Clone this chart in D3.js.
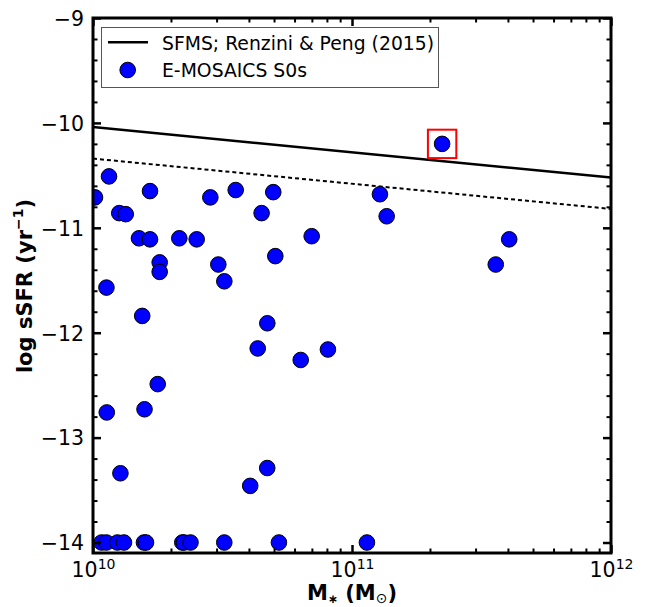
<!DOCTYPE html>
<html>
<head>
<meta charset="utf-8">
<script src="https://cdn.jsdelivr.net/npm/d3@7"></script>
<style>
  html, body { margin: 0; padding: 0; background: #fff; }
  svg { display: block; font-family: "DejaVu Sans", sans-serif; }
</style>
</head>
<body>
<svg id="chart" width="650" height="607"></svg>
<script>
// Stellar mass (Msun) and log specific star formation rate (yr^-1) of the S0 sample
const s0Mass = [
  1.153e10, 1.018e10, 1.660e10, 2.838e10, 3.556e10, 4.477e10, 1.263e10, 1.338e10,
  1.505e10, 1.660e10, 2.154e10, 2.514e10, 1.809e10, 1.809e10, 3.047e10, 3.214e10,
  1.127e10, 1.549e10, 4.966e10, 6.988e10, 5.057e10, 1.282e11, 1.361e11, 2.228e11,
  4.046e11, 3.589e11, 4.710e10, 4.325e10, 6.339e10, 8.072e10, 1.778e10, 1.581e10,
  1.130e10, 1.276e10, 4.046e10, 4.706e10,
  1.079e10, 1.127e10, 1.243e10, 1.317e10, 1.573e10, 1.602e10, 2.212e10, 2.246e10,
  2.379e10, 3.213e10, 5.222e10, 1.142e11
];
const s0SSFR = [
  -10.51, -10.71, -10.65, -10.71, -10.64, -10.86, -10.86, -10.87,
  -11.10, -11.11, -11.10, -11.11, -11.33, -11.42, -11.35, -11.51,
  -11.57, -11.84, -10.66, -11.08, -11.27, -10.68, -10.89, -10.20,
  -11.11, -11.35, -11.91, -12.15, -12.26, -12.16, -12.49, -12.73,
  -12.76, -13.34, -13.46, -13.29,
  -14.0, -14.0, -14.0, -14.0, -14.0, -14.0, -14.0, -14.0,
  -14.0, -14.0, -14.0, -14.0
];
// Galaxy marked with a box (index into the arrays above)
const highlightIndex = 23;

// Star-forming main sequence (Renzini & Peng 2015) and its lower envelope
const sfmsMass = [1e10, 1e12];
const sfmsSSFR = [-10.04, -10.52];
const sfmsLowSSFR = [-10.34, -10.82];

// Axis ticks
const xMajorTicks = [1e10, 1e11, 1e12];
const xMinorTicks = [2e10, 3e10, 4e10, 5e10, 6e10, 7e10, 8e10, 9e10,
                     2e11, 3e11, 4e11, 5e11, 6e11, 7e11, 8e11, 9e11];
const yMajorTicks = [-14, -13, -12, -11, -10, -9];
const yMinorTicks = [-13.8, -13.6, -13.4, -13.2, -12.8, -12.6, -12.4, -12.2,
                     -11.8, -11.6, -11.4, -11.2, -10.8, -10.6, -10.4, -10.2,
                     -9.8, -9.6, -9.4, -9.2];

const legendLabels = ["SFMS; Renzini & Peng (2015)", "E-MOSAICS S0s"];

(function draw() {
  const pL = 93, pR = 611, pT = 18, pB = 553;
  const svg = d3.select("#chart");

  const x = d3.scaleLog().domain([1e10, 1e12]).range([pL, pR]);
  const y = d3.scaleLinear().domain([-14.1, -9]).range([pB, pT]);

  svg.append("defs").append("clipPath").attr("id", "plotClip")
    .append("rect").attr("x", pL).attr("y", pT)
    .attr("width", pR - pL).attr("height", pB - pT);

  const plot = svg.append("g").attr("clip-path", "url(#plotClip)");

  // Main sequence lines
  const line = d3.line().x(d => x(d[0])).y(d => y(d[1]));
  plot.append("path")
    .attr("d", line(sfmsMass.map((m, i) => [m, sfmsSSFR[i]])))
    .attr("fill", "none").attr("stroke", "#000").attr("stroke-width", 2.5);
  plot.append("path")
    .attr("d", line(sfmsMass.map((m, i) => [m, sfmsLowSSFR[i]])))
    .attr("fill", "none").attr("stroke", "#000").attr("stroke-width", 2)
    .attr("stroke-dasharray", "4,3");

  // Galaxies
  const pts = s0Mass.map((m, i) => ({ m, s: s0SSFR[i] }));
  plot.selectAll("circle.gal").data(pts).enter().append("circle")
    .attr("class", "gal")
    .attr("cx", d => x(d.m)).attr("cy", d => y(d.s)).attr("r", 7.8)
    .attr("fill", "#0000ff").attr("stroke", "#000").attr("stroke-width", 1);

  // Box around the highlighted galaxy
  const hb = 14.2;
  plot.append("rect")
    .attr("x", x(s0Mass[highlightIndex]) - hb).attr("y", y(s0SSFR[highlightIndex]) - hb)
    .attr("width", 2 * hb).attr("height", 2 * hb)
    .attr("fill", "none").attr("stroke", "#ff0000").attr("stroke-width", 2);

  // Ticks (pointing inwards on all four sides)
  function tickStyle(g, w) {
    g.select(".domain").remove();
    g.selectAll(".tick line").attr("stroke", "#000").attr("stroke-width", w);
  }
  const noLabel = () => "";

  svg.append("g").attr("transform", `translate(${pL},0)`)
    .call(d3.axisLeft(y).tickValues(yMinorTicks).tickSize(-4.5).tickFormat(noLabel))
    .call(g => tickStyle(g, 2));
  svg.append("g").attr("transform", `translate(${pR},0)`)
    .call(d3.axisRight(y).tickValues(yMinorTicks).tickSize(-4.5).tickFormat(noLabel))
    .call(g => tickStyle(g, 2));
  svg.append("g").attr("transform", `translate(${pR},0)`)
    .call(d3.axisRight(y).tickValues(yMajorTicks).tickSize(-8).tickFormat(noLabel))
    .call(g => tickStyle(g, 2.5));
  const yAx = svg.append("g").attr("transform", `translate(${pL},0)`)
    .call(d3.axisLeft(y).tickValues(yMajorTicks).tickSize(-8).tickPadding(9)
      .tickFormat(d3.format("d")))
    .call(g => tickStyle(g, 2.5));
  yAx.attr("font-size", null).attr("font-family", null);
  yAx.selectAll(".tick text").attr("font-size", 20.5).attr("fill", "#000")
    .attr("font-family", "DejaVu Sans").attr("dy", "0.36em");

  svg.append("g").attr("transform", `translate(0,${pT})`)
    .call(d3.axisTop(x).tickValues(xMinorTicks).tickSize(-4.5).tickFormat(noLabel))
    .call(g => tickStyle(g, 2));
  svg.append("g").attr("transform", `translate(0,${pT})`)
    .call(d3.axisTop(x).tickValues(xMajorTicks).tickSize(-8).tickFormat(noLabel))
    .call(g => tickStyle(g, 2.5));
  svg.append("g").attr("transform", `translate(0,${pB})`)
    .call(d3.axisBottom(x).tickValues(xMinorTicks).tickSize(-4.5).tickFormat(noLabel))
    .call(g => tickStyle(g, 2));
  const xAx = svg.append("g").attr("transform", `translate(0,${pB})`)
    .call(d3.axisBottom(x).tickValues(xMajorTicks).tickSize(-8).tickPadding(6)
      .tickFormat(noLabel))
    .call(g => tickStyle(g, 2.5));
  xAx.attr("font-size", null).attr("font-family", null);
  xAx.selectAll(".tick text").each(function (d) {
    const t = d3.select(this).attr("font-size", 20.5).attr("fill", "#000")
      .attr("font-family", "DejaVu Sans").attr("dy", "0").attr("y", 24);
    t.text(null);
    t.append("tspan").text("10");
    t.append("tspan").attr("font-size", 14).attr("dy", -8).text(Math.round(Math.log10(d)));
  });

  // Frame
  svg.append("rect").attr("x", pL).attr("y", pT)
    .attr("width", pR - pL).attr("height", pB - pT)
    .attr("fill", "none").attr("stroke", "#000").attr("stroke-width", 3);

  // Axis labels
  const xl = svg.append("text").attr("x", 352).attr("y", 600)
    .attr("text-anchor", "middle").attr("font-size", 21).attr("font-weight", "bold");
  xl.append("tspan").text("M");
  xl.append("tspan").attr("font-size", 12).attr("dy", 3).text("∗");
  xl.append("tspan").attr("dy", -3).text(" (M");
  xl.append("tspan").attr("font-size", 14).attr("dy", 3).attr("font-weight", "normal").text("⊙");
  xl.append("tspan").attr("dy", -3).text(")");

  const yl = svg.append("text").attr("transform", "translate(32,286) rotate(-90)")
    .attr("text-anchor", "middle").attr("font-size", 21).attr("font-weight", "bold");
  yl.append("tspan").text("log sSFR (yr");
  yl.append("tspan").attr("font-size", 14).attr("dy", -9).text("−1");
  yl.append("tspan").attr("dy", 9).text(")");

  // Legend
  const lg = svg.append("g");
  lg.append("rect").attr("x", 101.5).attr("y", 27.5).attr("width", 337).attr("height", 60)
    .attr("fill", "#fff").attr("stroke", "#555").attr("stroke-width", 1);
  lg.append("line").attr("x1", 108).attr("x2", 148).attr("y1", 42.3).attr("y2", 42.3)
    .attr("stroke", "#000").attr("stroke-width", 2.5);
  lg.append("circle").attr("cx", 127.7).attr("cy", 70).attr("r", 7.8)
    .attr("fill", "#0000ff").attr("stroke", "#000").attr("stroke-width", 1);
  lg.selectAll("text.lab").data(legendLabels).enter().append("text")
    .attr("class", "lab").attr("x", 162).attr("y", (d, i) => 49.5 + i * 27.8)
    .attr("font-size", 18.8).attr("fill", "#000").text(d => d);
})();
</script>
</body>
</html>
